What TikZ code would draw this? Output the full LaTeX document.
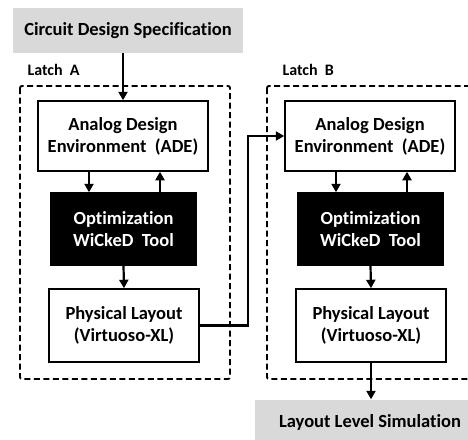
\documentclass[tikz,border=0pt]{standalone}
\usepackage{fontspec}
\setmainfont{Carlito}[Ligatures=NoCommon]
\usetikzlibrary{arrows.meta}

\tikzset{
  box/.style={draw, line width=1.5pt, fill=white, align=center, inner sep=0pt,
    font=\fontsize{18.5}{22}\selectfont\bfseries},
  toolbox/.style={box, fill=black, text=white},
  greybox/.style={fill=gray!30, minimum width=230pt, minimum height=45pt, inner sep=0pt,
    font=\fontsize{18.5}{22}\selectfont\bfseries},
  latch/.style={dashed, line width=1.9pt, dash pattern=on 6pt off 3.5pt, rounded corners=2pt},
  flow/.style={line width=2.2pt, -{Triangle[width=9pt,length=8.5pt]}}
}

\begin{document}
\begin{tikzpicture}[x=1pt, y=-1pt]
        \useasboundingbox (0,0) rectangle (468,439);
        \clip (0,0) rectangle (468,439);

        \node[greybox] (spec) at (128,30.5) {Circuit Design Specification};
        \node[greybox] (sim) at (370,422) {Layout Level Simulation};

        \foreach \l/\dx/\lx in {A/0/24, B/247/279} {
            \draw[latch] (20+\dx,86) rectangle (230+\dx,379);
            \node[anchor=base west, font=\fontsize{16}{18}\selectfont\bfseries] (lab\l) at (\lx,75) {Latch\ \ \l};
            \node[box, minimum width=170pt, minimum height=70pt] (ade\l) at (123+\dx,136) {Analog Design\\Environment\ \ (ADE)};
            \node[toolbox, minimum width=145pt, minimum height=72pt] (opt\l) at (123.5+\dx,229) {Optimization\\WiCkeD\ \ Tool};
            \node[box, minimum width=150pt, minimum height=73pt] (lay\l) at (124+\dx,325.5) {Physical Layout\\(Virtuoso-XL)};
            \draw[flow] ([xshift=-34pt]ade\l.south) -- ([xshift=-34pt]ade\l.south |- opt\l.north);
            \draw[flow] ([xshift=37pt]ade\l.south |- opt\l.north) -- ([xshift=37pt]ade\l.south);
            \draw[flow] (opt\l.south) -- (lay\l.north);
        }

        \draw[flow] (spec.south -| adeA.north) -- (adeA.north);
        \draw[flow] (layA.east) -- ++(48,0) |- (adeB.west);
        \draw[flow] (layB.south) -- (layB.south |- sim.north);
    \end{tikzpicture}
\end{document}
